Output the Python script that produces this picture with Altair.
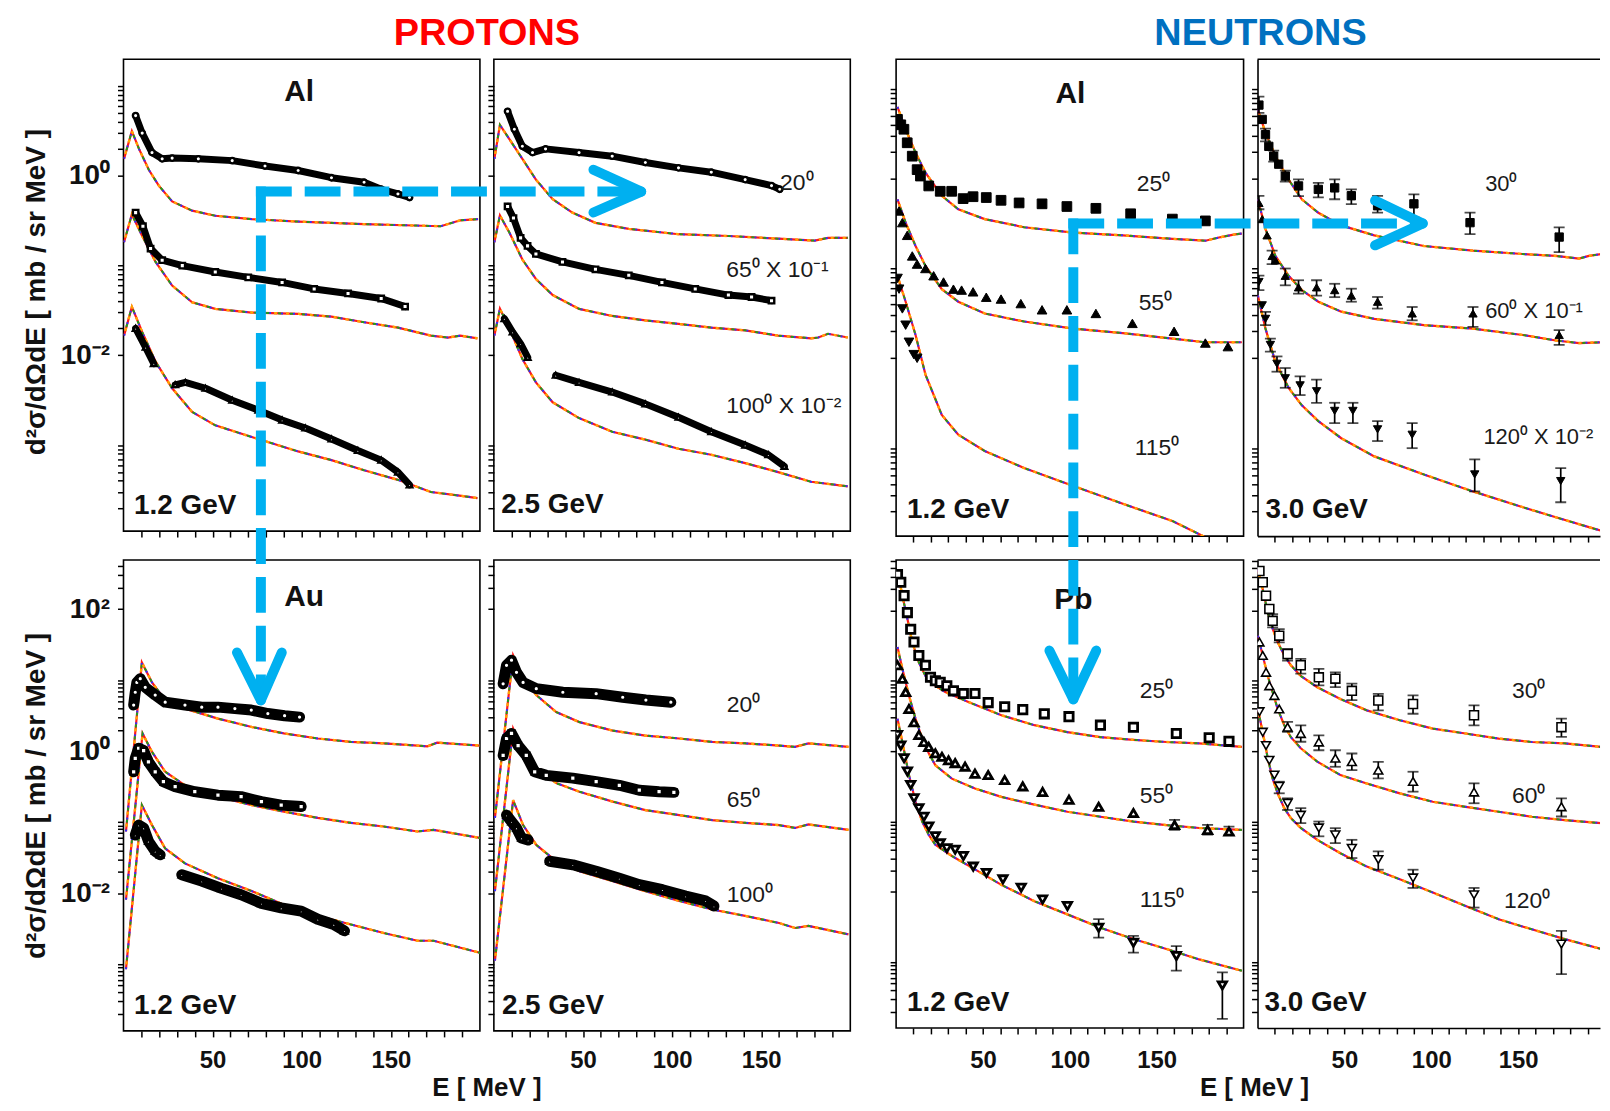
import altair as alt
import pandas as pd

FONT = "Liberation Sans, Arial, Helvetica, sans-serif"
ARROW_BLUE = "#00b0f0"
S0, SM, S1, S2 = "\u2070", "\u207b", "\u00b9", "\u00b2"

# ---------------- axis ticks / labels ----------------
X_TICKS = [10, 20, 30, 40, 50, 60, 70, 80, 90, 100, 110, 120, 130, 140, 150, 160, 170, 180, 190]
X_TICK_LABELS = [50, 100, 150]
Y_MANTISSAS = [1, 2, 3, 4, 5, 6, 7, 8, 9]
Y_MINOR_DECADES = [-4, -2, 0, 2]
Y_SINGLE_DECADES = [-3, -1, 1]
Y_LABELS = {1: "10" + S0, 0.01: "10" + SM + S2, 100: "10" + S2}

# ---------------- values: (E [MeV], d2s/dOdE [mb/sr MeV] as plotted) ----------------
# PROTONS  Al 1.2 GeV
P_AL12_MOD20 = [(0.3,1.55),(4.7,3.16),(8.7,2.0),(14.2,1.17),(19.8,0.78),(27.3,0.52),(38.5,0.41),(51.5,0.36),(72,0.33),(98,0.31),(135,0.29),(163,0.28),(178,0.275),(189,0.32),(199,0.33)]
P_AL12_MOD65 = [(0.3,0.182),(4.7,0.372),(10.5,0.214),(18,0.110),(27.3,0.060),(38.5,0.039),(51.5,0.033),(72,0.030),(98,0.029),(116.7,0.027),(135,0.0234),(154,0.0204),(172.5,0.0166),(182,0.0158),(189,0.0166),(198.6,0.0155)]
P_AL12_MOD100 = [(0.3,0.0166),(4.7,0.0347),(10.5,0.0182),(18,0.0085),(27.3,0.0043),(38.5,0.00234),(51.5,0.00166),(72,0.00123),(98,0.00085),(116.7,0.00068),(135,0.000525),(154,0.00041),(172.5,0.0003),(187.5,0.000275),(198.6,0.000257)]
P_AL12_EXP20 = [(6.8,4.7),(10.5,3.0),(16,1.82),(21.7,1.55),(27.3,1.58),(42,1.55),(61,1.48),(79.4,1.29),(98,1.15),(116.7,0.955),(135,0.85),(144.6,0.71),(154,0.63),(160.5,0.575)]
P_AL12_EXP65 = [(6.8,0.39),(10.9,0.275),(15.2,0.155),(21.7,0.115),(33,0.100),(51.5,0.085),(70,0.074),(89,0.065),(107,0.055),(126,0.049),(144.6,0.043),(158,0.035)]
P_AL12_EXP100A = [(6.8,0.020),(12.4,0.0123),(17,0.0081)]
P_AL12_EXP100B = [(29,0.0047),(34.7,0.0050),(46,0.0043),(61,0.00316),(75.7,0.00245),(89,0.0019),(102,0.00155),(116.7,0.00117),(131.5,0.00087),(144.6,0.00068),(154,0.0005),(160.5,0.00036)]
# PROTONS  Al 2.5 GeV
P_AL25_MOD20 = [(0.3,1.55),(3.4,3.7),(8.7,2.57),(16,1.55),(23.6,0.91),(33,0.55),(44,0.39),(57,0.30),(75.7,0.257),(103.6,0.224),(131.6,0.214),(159.5,0.20),(180,0.19),(187.5,0.204),(198.6,0.204)]
P_AL25_MOD65 = [(0.3,0.182),(3.4,0.363),(8.7,0.234),(16,0.117),(23.6,0.071),(33,0.047),(47.8,0.033),(66.4,0.0275),(85,0.0245),(103.6,0.0224),(122,0.0204),(141,0.019),(159.5,0.0166),(178,0.0155),(182,0.0158),(187.5,0.0174),(198.6,0.0158)]
P_AL25_MOD100 = [(0.3,0.0166),(3.4,0.0331),(8.7,0.020),(16,0.0091),(23.6,0.0050),(33,0.0030),(47.8,0.0020),(66.4,0.00141),(85,0.00115),(103.6,0.00091),(122,0.00078),(141,0.00063),(159.5,0.0005),(178,0.00039),(198.6,0.000347)]
P_AL25_EXP20 = [(7.7,5.25),(11.5,3.31),(16,2.14),(21.7,1.82),(29,2.0),(47.8,1.82),(66.4,1.66),(85,1.41),(103.6,1.23),(122,1.10),(141,0.91),(155.8,0.78),(160.4,0.71)]
P_AL25_EXP65 = [(7.7,0.457),(11,0.339),(15,0.204),(18.9,0.166),(23.6,0.135),(38.5,0.110),(57,0.091),(75.7,0.078),(94.3,0.065),(113,0.055),(131.6,0.047),(144.6,0.0447),(155.8,0.0407)]
P_AL25_EXP100A = [(5.9,0.0257),(10.5,0.0182),(15,0.0135),(19,0.0095)]
P_AL25_EXP100B = [(34.7,0.0060),(47.8,0.0050),(66.4,0.0039),(85,0.00288),(103.6,0.00204),(122,0.00141),(141,0.0010),(154,0.00078),(163,0.00058)]
# PROTONS  Au 1.2 GeV
P_AU12_MOD20 = [(1.4,0.074),(10.3,17.8),(16,9.3),(23.4,5.25),(34.5,3.98),(53,2.88),(72,2.19),(90,1.78),(109,1.51),(127.6,1.35),(146,1.29),(165,1.20),(170.5,1.17),(176,1.32),(200,1.20)]
P_AU12_MOD65 = [(1.4,0.0081),(10.7,1.78),(16,0.977),(23.4,0.513),(34.5,0.331),(53,0.229),(72,0.174),(90,0.141),(109,0.115),(127.6,0.098),(146,0.087),(165,0.074),(174,0.078),(200,0.060)]
P_AU12_MOD100 = [(1.4,0.00085),(10.3,0.174),(16,0.091),(23.4,0.0427),(34.5,0.0263),(53,0.0162),(72,0.0107),(90,0.0069),(109,0.0048),(127.6,0.00363),(146,0.00275),(165,0.00214),(174,0.00214),(200,0.00145)]
P_AU12_EXP20 = [(5.7,4.47),(6.6,6.76),(7.5,9.3),(9.4,10.5),(12.2,7.94),(17.8,6.17),(23.4,4.9),(34.5,4.47),(43.9,4.17),(53,4.17),(62.5,3.98),(71.7,3.8),(81,3.39),(90.4,3.16),(98.8,3.02)]
P_AU12_EXP65 = [(5.7,0.513),(6.6,0.794),(8.5,1.10),(11.3,1.02),(14,0.708),(17.8,0.513),(22.4,0.372),(29,0.316),(40,0.269),(53,0.24),(66,0.229),(77.4,0.195),(88.5,0.174),(99.7,0.166)]
P_AU12_EXP100A = [(6.6,0.066),(8.5,0.091),(11.3,0.083),(14,0.054),(17.8,0.039),(20.6,0.0347)]
P_AU12_EXP100B = [(32.7,0.0182),(43.9,0.0148),(55,0.0117),(66,0.0095),(77.4,0.0072),(88.5,0.0062),(99.7,0.0056),(109,0.0043),(118,0.00363),(124,0.00295)]
# PROTONS  Au 2.5 GeV
P_AU25_MOD20 = [(0.6,0.115),(10.8,22.4),(16.4,10.5),(23.8,6.17),(35,3.55),(48,2.57),(66.7,1.95),(85,1.66),(104,1.51),(122.5,1.35),(141,1.29),(160,1.20),(169,1.15),(176.5,1.29),(199,1.15)]
P_AU25_MOD65 = [(0.6,0.0107),(10.8,2.09),(16.4,0.977),(23.8,0.575),(35,0.355),(48,0.269),(66.7,0.195),(85,0.148),(104,0.126),(122.5,0.107),(141,0.098),(160,0.091),(169,0.083),(176.5,0.093),(199,0.078)]
P_AU25_MOD100 = [(0.6,0.00112),(10.8,0.204),(16.4,0.091),(23.8,0.0479),(35,0.0282),(48,0.0204),(66.7,0.0148),(85,0.0107),(104,0.0078),(122.5,0.0059),(141,0.0048),(160,0.0038),(169,0.00324),(176.5,0.00347),(199,0.00263)]
P_AU25_EXP20 = [(5.2,8.9),(7.1,16.2),(9.9,19.1),(12.7,12.9),(16.4,9.3),(23.8,7.6),(38.7,6.76),(57.4,6.46),(72.3,5.75),(85.3,5.25),(99.3,4.9)]
P_AU25_EXP65 = [(5.2,0.871),(7.1,1.51),(9.9,1.78),(13.6,1.20),(18.2,0.871),(22.9,0.513),(29.4,0.457),(44.3,0.417),(57.4,0.372),(70.4,0.331),(81.6,0.282),(92.7,0.269),(101,0.263)]
P_AU25_EXP100A = [(7.1,0.126),(9.9,0.102),(12.7,0.083),(15.5,0.060),(19.2,0.056)]
P_AU25_EXP100B = [(31.3,0.0282),(44.3,0.0251),(57.4,0.0204),(70.4,0.0162),(81.6,0.0132),(94.6,0.0112),(107.6,0.0091),(118.8,0.0078),(123.5,0.0066)]
# NEUTRONS  Al 1.2 GeV
N_AL12_MOD25 = [(0.8,6.3),(5.5,3.55),(11.2,1.95),(16.9,1.17),(26.3,0.646),(35.8,0.457),(51,0.355),(73.7,0.288),(102,0.251),(130.5,0.234),(159,0.214),(178,0.204),(187,0.224),(195,0.24),(199,0.245)]
N_AL12_MOD55 = [(0.8,0.589),(5.5,0.324),(11.2,0.178),(16.9,0.107),(26.3,0.0589),(35.8,0.0427),(51,0.0316),(73.7,0.0257),(102,0.0214),(130.5,0.0191),(159,0.0166),(178,0.0151),(199,0.0151)]
N_AL12_MOD115 = [(0.8,0.083),(5.5,0.0427),(11.2,0.0182),(16.9,0.0066),(26.3,0.00234),(35.8,0.00141),(51,0.00093),(73.7,0.0006),(102,0.00038),(130.5,0.00024),(159,0.000155),(178,0.000102),(195,0.000079)]
N_AL12_EXP25 = [(0.8,4.57),(2.7,3.98),(4.5,3.55),(6.4,2.51),(9.3,1.78),(12.1,1.26),(14,1.07),(18.8,0.83),(25.4,0.724),(32,0.724),(38.6,0.60),(44.3,0.63),(51.9,0.617),(60.4,0.575),(70.8,0.537),(84,0.525),(98.3,0.49),(115,0.468),(135,0.407),(159,0.355),(178,0.339)]
N_AL12_EXP55 = [(1.7,0.437),(3.6,0.324),(6.4,0.234),(9.3,0.138),(12.1,0.112),(16.9,0.100),(21.6,0.083),(27.3,0.0708),(33,0.0589),(37.7,0.0575),(44.3,0.055),(51.9,0.0479),(60.4,0.0457),(71.8,0.0407),(84,0.0347),(98.3,0.0347),(115,0.0316),(136,0.0245),(160,0.020),(178,0.0148),(191,0.0135)]
N_AL12_EXP115 = [(0.8,0.0776),(1.7,0.0589),(3.6,0.0355),(5.5,0.0234),(7.4,0.0151),(10.2,0.011),(12.1,0.010)]
# NEUTRONS  Al 3.0 GeV
N_AL30_MOD30 = [(0.2,5.9),(4.6,3.24),(10.3,1.78),(17.9,0.977),(25.5,0.589),(35,0.417),(48.2,0.302),(67.2,0.234),(95.7,0.178),(124,0.158),(152.7,0.145),(171.7,0.138),(185,0.129),(190.7,0.138),(198,0.145)]
N_AL30_MOD60 = [(0.2,0.589),(4.6,0.275),(10.3,0.138),(17.9,0.083),(25.5,0.0575),(35,0.0427),(48.2,0.0331),(67.2,0.0275),(95.7,0.0234),(124,0.0214),(152.7,0.0182),(171.7,0.0158),(185,0.0148),(198,0.0151)]
N_AL30_MOD120 = [(0.2,0.050),(4.6,0.0214),(10.3,0.0091),(17.9,0.0047),(25.5,0.0030),(35,0.0020),(48.2,0.00129),(67.2,0.00081),(95.7,0.00051),(124,0.00033),(152.7,0.00022),(171.7,0.00017),(190.7,0.000132),(198,0.00012)]
N_AL30_EXP30 = [(0.8,6.6),(2.7,4.57),(4.6,3.09),(6.5,2.29),(9.3,1.78),(12.2,1.45),(16,1.07),(23.6,0.83),(35,0.76),(44.4,0.79),(54,0.646),(69.1,0.50),(90,0.525),(122.3,0.324),(173.6,0.224)]
N_AL30_ERR30 = [(0.8,5.4,8.2),(4.6,2.6,3.6),(9.3,1.55,2.05),(16,0.93,1.23),(23.6,0.64,0.98),(35,0.62,0.90),(44.4,0.59,0.98),(54,0.52,0.76),(69.1,0.42,0.645),(90,0.37,0.67),(122.3,0.242,0.42),(173.6,0.152,0.287)]
N_AL30_EXP60 = [(0.8,0.537),(2.7,0.355),(5.5,0.234),(8.4,0.138),(10.3,0.123),(16,0.083),(23.6,0.0617),(34,0.0617),(44.4,0.0575),(54,0.050),(69.1,0.0427),(89,0.0316),(124,0.0316),(173.6,0.0182)]
N_AL30_ERR60 = [(0.8,0.457,0.645),(8.4,0.112,0.158),(16,0.065,0.10),(23.6,0.0525,0.074),(34,0.050,0.074),(44.4,0.048,0.0676),(54,0.0427,0.0596),(69.1,0.0358,0.0482),(89,0.0265,0.0373),(124,0.0224,0.0373),(173.6,0.0141,0.0206)]
N_AL30_EXP120 = [(0.8,0.0708),(2.7,0.0389),(4.6,0.0275),(7.4,0.0141),(11.2,0.0087),(16,0.0060),(24.5,0.0050),(34,0.0043),(44.4,0.0026),(54.9,0.0026),(69.1,0.00162),(89,0.00141),(125,0.00051),(174.5,0.00043)]
N_AL30_ERR120 = [(0.8,0.0575,0.0835),(4.6,0.0234,0.0329),(7.4,0.0119,0.0166),(11.2,0.0071,0.0105),(16,0.0047,0.0078),(24.5,0.0039,0.0063),(34,0.0032,0.0058),(44.4,0.0019,0.0032),(54.9,0.0019,0.0032),(69.1,0.0012,0.0020),(89,0.0010,0.0019),(125,0.00033,0.00075),(174.5,0.00025,0.00060)]
# NEUTRONS  Pb 1.2 GeV
N_PB12_MOD25 = [(0.8,363),(3.6,162),(6.5,76),(9.3,35.5),(13.1,18.2),(16.9,11.7),(20.7,9.1),(28.3,6.9),(41.6,5.0),(60.6,3.24),(79.6,2.34),(98.6,1.86),(117.6,1.58),(136.6,1.45),(155.6,1.35),(174.5,1.29),(199,1.15)]
N_PB12_MOD55 = [(0.8,30.2),(3.6,14.8),(7.4,6.17),(11.2,2.88),(15,1.51),(18.8,0.933),(22.6,0.631),(32.1,0.407),(45.4,0.295),(60.6,0.224),(79.6,0.174),(98.6,0.138),(117.6,0.117),(136.6,0.10),(155.6,0.089),(174.5,0.081),(199,0.076)]
N_PB12_MOD115 = [(0.8,2.88),(3.6,1.35),(7.4,0.457),(11.2,0.191),(15,0.10),(18.8,0.0646),(22.6,0.0468),(32.1,0.0324),(45.4,0.0209),(60.6,0.0126),(79.6,0.0074),(98.6,0.0048),(117.6,0.0031),(136.6,0.00214),(155.6,0.00155),(174.5,0.0011),(199,0.00076)]
N_PB12_EXP25 = [(0.8,324),(2.7,251),(4.6,162),(6.5,93),(8.4,54),(10.3,35.5),(13.1,22.9),(16.9,16.6),(19.8,11.2),(22.6,10.0),(25.4,9.5),(29.2,8.5),(33,7.2),(38.7,6.6),(45.4,6.6),(53,4.9),(62.5,4.27),(72.9,3.89),(85.3,3.39),(99.5,3.09),(117.6,2.34),(136.6,2.19),(161.3,1.78),(180.2,1.55),(191.6,1.38)]
N_PB12_EXP55 = [(0.8,16.6),(3.6,10.7),(5.5,6.9),(7.4,3.98),(10.3,2.57),(13.1,1.70),(16,1.35),(18.8,1.15),(22.6,0.933),(26.4,0.832),(30.2,0.741),(34,0.676),(39.7,0.603),(45.4,0.479),(53,0.457),(62.5,0.389),(72.9,0.316),(84.3,0.263),(99.5,0.204),(116.6,0.162),(136.6,0.132),(160.3,0.089),(179.3,0.076),(191.6,0.072)]
N_PB12_ERR55 = [(160.3,0.076,0.106),(179.3,0.065,0.090),(191.6,0.065,0.085)]
N_PB12_EXP115 = [(0.8,1.70),(2.7,1.20),(4.6,0.794),(6.5,0.513),(8.4,0.331),(10.3,0.214),(13.1,0.155),(16,0.117),(18.8,0.085),(22.6,0.0617),(25.4,0.049),(29.2,0.0417),(34,0.0398),(38.7,0.0324),(44.4,0.0229),(52,0.0186),(61.5,0.0151),(72,0.0115),(84.3,0.0078),(98.6,0.0063),(116.6,0.0031),(136.6,0.0019),(161.3,0.00123),(187.8,0.00047)]
N_PB12_ERR115 = [(116.6,0.00224,0.0041),(136.6,0.00137,0.00237),(161.3,0.00076,0.0017),(187.8,0.000157,0.00072)]
# NEUTRONS  Pb 3.0 GeV
N_PB30_MOD30 = [(0.2,380),(3,200),(5.9,93),(8.7,55),(11.6,35.5),(15.4,22.9),(19.2,16.6),(24.9,11.7),(34.4,8.1),(47.7,5.5),(62.9,3.8),(81.9,2.75),(100.9,2.09),(119.8,1.78),(138.8,1.51),(157.8,1.35),(176.8,1.29),(197.7,1.15)]
N_PB30_MOD60 = [(0.2,43.7),(3,22.9),(5.9,11.7),(8.7,6.9),(11.6,3.98),(15.4,2.34),(19.2,1.58),(24.9,1.10),(34.4,0.708),(47.7,0.457),(62.9,0.347),(81.9,0.251),(100.9,0.191),(119.8,0.162),(138.8,0.138),(157.8,0.117),(176.8,0.105),(197.7,0.095)]
N_PB30_MOD120 = [(0.2,3.98),(3,1.86),(5.9,0.794),(8.7,0.407),(11.6,0.251),(15.4,0.155),(19.2,0.112),(24.9,0.081),(34.4,0.055),(47.7,0.0355),(62.9,0.0229),(81.9,0.0151),(100.9,0.0098),(119.8,0.0063),(138.8,0.0041),(157.8,0.00295),(176.8,0.00214),(197.7,0.00155)]
N_PB30_EXP30 = [(1.1,363),(3,251),(4.9,162),(6.8,105),(8.7,71),(12.5,43.7),(17.3,24),(24.9,16.6),(35.3,11.2),(44.8,10.7),(54.3,7.2),(69.5,5.25),(89.5,4.68),(124.6,3.24),(174.9,2.19)]
N_PB30_ERR30 = [(8.7,57.4,88.5),(12.5,35.2,54.3),(17.3,19.4,28.3),(24.9,12.6,20.5),(35.3,8.6,14.8),(44.8,8.1,13.2),(54.3,5.3,9.1),(69.5,3.8,6.5),(89.5,3.4,6.2),(124.6,2.33,4.48),(174.9,1.6,2.9)]
N_PB30_EXP60 = [(1.1,35.5),(3,22.9),(4.9,13.2),(6.8,8.5),(9.7,6.17),(12.5,3.98),(17.3,2.19),(24.9,1.78),(35.3,1.35),(44.8,0.794),(54.3,0.708),(69.5,0.537),(89.5,0.372),(124.6,0.263),(174.9,0.162)]
N_PB30_ERR60 = [(17.3,1.88,2.6),(24.9,1.36,2.33),(35.3,1.03,1.68),(44.8,0.60,1.03),(54.3,0.538,0.927),(69.5,0.41,0.706),(89.5,0.266,0.51),(124.6,0.182,0.349),(174.9,0.118,0.214)]
N_PB30_EXP120 = [(1.1,3.63),(3,1.86),(4.9,1.20),(6.8,0.741),(9.7,0.457),(12.5,0.316),(17.3,0.182),(24.9,0.123),(35.3,0.081),(44.8,0.0646),(54.3,0.0417),(69.5,0.0288),(89.5,0.0158),(124.6,0.0091),(174.9,0.00182)]
N_PB30_ERR120 = [(12.5,0.252,0.368),(17.3,0.146,0.214),(24.9,0.095,0.155),(35.3,0.0617,0.10),(44.8,0.0494,0.0805),(54.3,0.0303,0.055),(69.5,0.0207,0.0377),(89.5,0.0114,0.0207),(124.6,0.006,0.0114),(174.9,0.00068,0.00279)]

# ---------------- styling ----------------
MODEL_STYLES = [("#ff1a1a", 2.2, None, 0), ("#3030ff", 2.0, [2, 10], 0),
                ("#1e9e1e", 2.0, [3, 9], 3), ("#ffa500", 2.4, [3, 9], 7)]


def y_ticks(lo, hi):
    vals = [m * 10.0 ** d for d in Y_MINOR_DECADES for m in Y_MANTISSAS]
    vals += [10.0 ** d for d in Y_SINGLE_DECADES]
    return sorted(v for v in vals if lo <= v <= hi)


XLABEL_EXPR = "indexof(" + str(X_TICK_LABELS) + ", datum.value) >= 0 ? datum.label : ''"
YLABEL_EXPR = "".join(f"datum.value == {k} ? '{v}' : " for k, v in Y_LABELS.items()) + "''"


def curve_df(pairs, key):
    df = pd.DataFrame(pairs, columns=["E", "v"])
    df["curve"] = str(key)
    return df


def one():
    return pd.DataFrame({"t": ["x"]})


def vtext(text, x, y, **mk):
    return alt.Chart(pd.DataFrame({"t": [text]})).mark_text(**mk).encode(
        x=alt.value(x), y=alt.value(y), text="t:N")


def seg(x1, y1, x2, y2, dashed):
    mk = dict(color=ARROW_BLUE, strokeWidth=10)
    if dashed:
        mk.update(strokeDash=[36, 13], strokeCap="butt")
    else:
        mk.update(strokeCap="round")
    return alt.Chart(one()).mark_rule(**mk).encode(
        x=alt.value(x1), y=alt.value(y1), x2=alt.value(x2), y2=alt.value(y2))


def build_panel(p):
    xs = alt.Scale(domain=p["xdom"], nice=False, zero=False)
    ys = alt.Scale(type="log", domain=p["ydom"], nice=False)
    xax = alt.Axis(values=X_TICKS, labels=p["xlab"], labelExpr=XLABEL_EXPR, title=None,
                   domain=p["open"], labelOverlap=False, labelFlush=False,
                   labelPadding=p.get("xpad", 12))
    yax = alt.Axis(values=y_ticks(*p["ydom"]), labels=p["ylab"], labelExpr=YLABEL_EXPR, title=None,
                   domain=p["open"], labelOverlap=False, labelFlush=False)

    def X(f="E"):
        return alt.X(f + ":Q", scale=xs, axis=xax)

    def Y(f="v"):
        return alt.Y(f + ":Q", scale=ys, axis=yax)

    layers = []
    mdf = pd.concat([curve_df(c, i) for i, c in enumerate(p["model"])], ignore_index=True)
    for color, width, dash, off in MODEL_STYLES:
        kw = dict(color=color, strokeWidth=width, clip=True)
        if dash:
            kw["strokeDash"] = dash
            kw["strokeDashOffset"] = off
        layers.append(alt.Chart(mdf).mark_line(**kw).encode(x=X(), y=Y(), detail="curve:N"))

    for s in p["series"]:
        df = pd.concat([curve_df(sg, j) for j, sg in enumerate(s["segs"])], ignore_index=True)
        if p["band"]:
            layers.append(alt.Chart(df).mark_line(color="black", strokeWidth=p["band"], strokeCap="round",
                                                  strokeJoin="round", clip=True)
                          .encode(x=X(), y=Y(), detail="curve:N"))
        if s.get("err"):
            edf = pd.DataFrame(s["err"], columns=["E", "lo", "hi"])
            layers.append(alt.Chart(edf).mark_rule(color="black", strokeWidth=1.7, clip=True)
                          .encode(x=X(), y=Y("lo"), y2=alt.Y2("hi")))
            for f in ("lo", "hi"):
                layers.append(alt.Chart(edf).mark_tick(orient="horizontal", size=11, thickness=1.8,
                                                       color="black", clip=True)
                              .encode(x=X(), y=Y(f)))
        layers.append(alt.Chart(df).mark_point(shape=s["shape"], filled=True, fill=s["fill"], stroke="black",
                                               strokeWidth=s["sw"], size=s["size"], opacity=1, clip=True)
                      .encode(x=X(), y=Y()))

    if p.get("target"):
        tdf = pd.DataFrame([p["target"]], columns=["E", "v", "t"])
        layers.append(alt.Chart(tdf).mark_text(font=FONT, fontSize=30, fontWeight="bold", align="center",
                                               baseline="alphabetic", color="#111")
                      .encode(x=X(), y=Y(), text="t:N"))
    bdf = pd.DataFrame([p["beam"]], columns=["E", "v", "t"])
    layers.append(alt.Chart(bdf).mark_text(font=FONT, fontSize=28, fontWeight="bold", align="left",
                                           baseline="alphabetic", color="#111")
                  .encode(x=X(), y=Y(), text="t:N"))
    adf = pd.DataFrame(p["angles"], columns=["E", "v", "t"])
    layers.append(alt.Chart(adf).mark_text(font=FONT, fontSize=p.get("afs", 23), align="left",
                                           baseline="alphabetic", color="#1a1a1a")
                  .encode(x=X(), y=Y(), text="t:N"))

    if p["open"]:
        layers.append(alt.Chart(one()).mark_rule(color="black", strokeWidth=1.6)
                      .encode(x=alt.value(0), x2=alt.value(p["w"]), y=alt.value(0)))
    layers += p.get("extra", [])

    ch = alt.layer(*layers).properties(width=p["w"], height=p["h"])
    if p["open"]:
        ch = ch.properties(view=alt.ViewBackground(stroke="transparent"))
    return ch


def series_set(segs_list, shapes, fill, size, sw, errs=None):
    out = []
    for i, segs in enumerate(segs_list):
        d = dict(segs=segs, shape=shapes[i], fill=fill, size=size, sw=sw)
        if errs and errs[i]:
            d["err"] = errs[i]
        out.append(d)
    return out


SHAPES = ["square", "triangle-up", "triangle-down"]
PSHAPES = ["circle", "square", "triangle-up"]
YTITLE = "d" + S2 + "\u03c3/d\u03a9dE [ mb / sr MeV ]"

TOP_P_Y = [1.1e-4, 20]
TOP_N_Y = [1.05e-4, 21.4]
BOT_P_Y = [1.15e-4, 493]
BOT_N_Y = [1.17e-4, 520]
XD = [0, 200]
XD_CUT = [0, 197.1]

ytitle_kw = dict(font=FONT, fontSize=28, fontWeight="bold", angle=270, align="center",
                 baseline="middle", color="#111")
elabel_kw = dict(font=FONT, fontSize=26, fontWeight="bold", align="center", baseline="alphabetic",
                 color="#111")
head_kw = dict(font=FONT, fontSize=38, fontWeight="bold", align="center", baseline="alphabetic")

# arrows, in pixel offsets from the last panel's top-left corner (drawn last -> on top)
ARROWS = [
    (-1006, -370, -624, -370, True), (-1001, -375, -1001, 135, True),
    (-667, -392, -619, -370, False), (-667, -349, -619, -370, False),
    (-1025, 93, -1001, 141, False), (-980, 93, -1001, 141, False),
    (-190, -338, 160, -338, True), (-185, -343, -185, 134, True),
    (118, -361, 166, -338, False), (118, -316, 166, -338, False),
    (-209, 91, -185, 140, False), (-162, 91, -185, 140, False),
]

panels = {}
panels["P1"] = dict(w=358, h=474, xdom=XD, ydom=TOP_P_Y, xlab=False, ylab=True, open=False, band=7,
                    model=[P_AL12_MOD20, P_AL12_MOD65, P_AL12_MOD100],
                    series=series_set([[P_AL12_EXP20], [P_AL12_EXP65], [P_AL12_EXP100A, P_AL12_EXP100B]],
                                      PSHAPES, "white", 30, 2.4),
                    target=(98.6, 6.86, "Al"), beam=(5.9, 1.7e-4, "1.2 GeV"), angles=[],
                    extra=[vtext("PROTONS", 365, -14, color="#ff0000", **head_kw),
                           vtext(YTITLE, -87, 234, **ytitle_kw)])
panels["P2"] = dict(w=358, h=474, xdom=XD, ydom=TOP_P_Y, xlab=False, ylab=False, open=False, band=7,
                    model=[P_AL25_MOD20, P_AL25_MOD65, P_AL25_MOD100],
                    series=series_set([[P_AL25_EXP20], [P_AL25_EXP65], [P_AL25_EXP100A, P_AL25_EXP100B]],
                                      PSHAPES, "white", 30, 2.4),
                    beam=(4.2, 1.74e-4, "2.5 GeV"),
                    angles=[(160.6, 0.70, "20" + S0), (130.4, 0.074, "65" + S0 + " X 10" + SM + S1),
                            (130.4, 0.0023, "100" + S0 + " X 10" + SM + S2)])
panels["P3"] = dict(w=349, h=479, xdom=XD, ydom=TOP_N_Y, xlab=False, ylab=False, open=False, band=0,
                    model=[N_AL12_MOD25, N_AL12_MOD55, N_AL12_MOD115],
                    series=series_set([[N_AL12_EXP25], [N_AL12_EXP55], [N_AL12_EXP115]],
                                      SHAPES, "black", 95, 1),
                    target=(100.3, 6.9, "Al"), beam=(6.3, 1.66e-4, "1.2 GeV"),
                    angles=[(138.5, 0.736, "25" + S0), (139.6, 0.0347, "55" + S0), (137.3, 0.00085, "115" + S0)],
                    extra=[vtext("NEUTRONS", 366, -14, color="#0070c0", **head_kw)])
panels["P4"] = dict(w=344, h=479, xdom=XD_CUT, ydom=TOP_N_Y, xlab=False, ylab=False, open=True, band=0,
                    model=[N_AL30_MOD30, N_AL30_MOD60, N_AL30_MOD120],
                    series=series_set([[N_AL30_EXP30], [N_AL30_EXP60], [N_AL30_EXP120]],
                                      SHAPES, "black", 70, 1,
                                      errs=[N_AL30_ERR30, N_AL30_ERR60, N_AL30_ERR120]),
                    beam=(4.6, 1.66e-4, "3.0 GeV"), afs=22,
                    angles=[(131, 0.736, "30" + S0), (131, 0.0282, "60" + S0 + " X 10" + SM + S1),
                            (130, 0.0011, "120" + S0 + " X 10" + SM + S2)])
panels["P5"] = dict(w=358, h=473, xdom=XD, ydom=BOT_P_Y, xlab=True, ylab=True, open=False, band=11,
                    model=[P_AU12_MOD20, P_AU12_MOD65, P_AU12_MOD100],
                    series=series_set([[P_AU12_EXP20], [P_AU12_EXP65], [P_AU12_EXP100A, P_AU12_EXP100B]],
                                      PSHAPES, "white", 34, 2.6),
                    target=(101.4, 112, "Au"), beam=(5.9, 2.0e-4, "1.2 GeV"), angles=[],
                    extra=[vtext(YTITLE, -87, 237, **ytitle_kw),
                           vtext("E [ MeV ]", 365, 538, **elabel_kw)])
panels["P6"] = dict(w=358, h=473, xdom=XD, ydom=BOT_P_Y, xlab=True, ylab=False, open=False, band=11,
                    model=[P_AU25_MOD20, P_AU25_MOD65, P_AU25_MOD100],
                    series=series_set([[P_AU25_EXP20], [P_AU25_EXP65], [P_AU25_EXP100A, P_AU25_EXP100B]],
                                      PSHAPES, "white", 34, 2.6),
                    beam=(4.5, 2.0e-4, "2.5 GeV"),
                    angles=[(130.7, 3.55, "20" + S0), (130.7, 0.162, "65" + S0), (130.7, 0.0074, "100" + S0)])
panels["P7"] = dict(w=349, h=470, xdom=XD, ydom=BOT_N_Y, xlab=True, ylab=False, open=False, band=0, xpad=15,
                    model=[N_PB12_MOD25, N_PB12_MOD55, N_PB12_MOD115],
                    series=series_set([[N_PB12_EXP25], [N_PB12_EXP55], [N_PB12_EXP115]],
                                      SHAPES, "white", 70, 2.8, errs=[None, N_PB12_ERR55, N_PB12_ERR115]),
                    target=(102, 105, "Pb"), beam=(6.3, 2.04e-4, "1.2 GeV"),
                    angles=[(140.2, 5.6, "25" + S0), (140.2, 0.182, "55" + S0), (140.2, 0.0062, "115" + S0)],
                    extra=[vtext("E [ MeV ]", 360, 538, **elabel_kw)])
panels["P8"] = dict(w=344, h=470, xdom=XD_CUT, ydom=BOT_N_Y, xlab=True, ylab=False, open=True, band=0, xpad=15,
                    model=[N_PB30_MOD30, N_PB30_MOD60, N_PB30_MOD120],
                    series=series_set([[N_PB30_EXP30], [N_PB30_EXP60], [N_PB30_EXP120]],
                                      SHAPES, "white", 80, 1.6,
                                      errs=[N_PB30_ERR30, N_PB30_ERR60, N_PB30_ERR120]),
                    beam=(4, 2.04e-4, "3.0 GeV"),
                    angles=[(146.4, 5.6, "30" + S0), (146.4, 0.182, "60" + S0), (141.9, 0.0059, "120" + S0)],
                    extra=[seg(*a) for a in ARROWS])


def spacer(h):
    return alt.Chart(one()).mark_point(opacity=0).encode(x=alt.value(0), y=alt.value(0)).properties(
        width=18, height=h, view=alt.ViewBackground(stroke="transparent"))


cells = [build_panel(panels["P1"]), build_panel(panels["P2"]), spacer(20),
         build_panel(panels["P3"]), build_panel(panels["P4"]),
         build_panel(panels["P5"]), build_panel(panels["P6"]), spacer(20),
         build_panel(panels["P7"]), build_panel(panels["P8"])]

grid = alt.concat(*cells, columns=5, spacing={"row": 24, "column": 14}, bounds="flush",
                  align={"row": "each", "column": "each"})

chart = (grid.properties(padding={"left": 14, "top": 4, "right": 0, "bottom": 0})
         .configure_view(stroke="black", strokeWidth=1.6)
         .configure_axis(grid=False, domain=False, domainColor="black", domainWidth=1.6,
                         tickColor="black", tickWidth=1.5, tickSize=6, labelFont=FONT,
                         labelFontWeight="bold", labelColor="#111")
         .configure_axisX(labelFontSize=24)
         .configure_axisY(labelFontSize=28, labelPadding=8))

chart.save("out.html", embed_options={"renderer": "svg", "actions": False})
